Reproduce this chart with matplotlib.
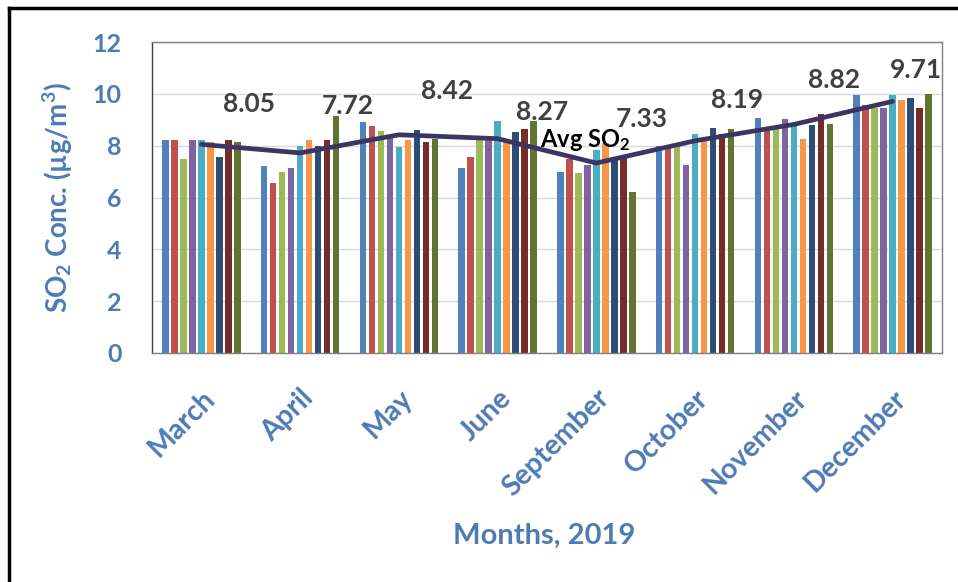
import numpy as np
import matplotlib
matplotlib.use('Agg')
import matplotlib.pyplot as plt
from matplotlib.lines import Line2D

plt.rcParams['font.family'] = ['Lato', 'DejaVu Sans']
plt.rcParams['mathtext.fontset'] = 'custom'
plt.rcParams['mathtext.rm'] = 'Lato:bold'
plt.rcParams['mathtext.it'] = 'Lato:bold'
plt.rcParams['mathtext.bf'] = 'Lato:bold'
plt.rcParams['mathtext.default'] = 'rm'

# Dados
meses = ['March', 'April', 'May', 'June', 'September', 'October', 'November', 'December']

s1 = [8.20, 7.20, 8.90, 7.15, 7.00, 8.00, 9.05, 9.95]
s2 = [8.20, 6.55, 8.75, 7.55, 7.50, 8.00, 8.72, 9.55]
s3 = [7.50, 7.00, 8.55, 8.27, 6.95, 8.00, 8.66, 9.45]
s4 = [8.20, 7.15, 8.40, 8.35, 7.25, 7.25, 9.02, 9.45]
s5 = [8.20, 8.00, 7.95, 8.96, 7.85, 8.45, 8.79, 9.95]
s6 = [8.15, 8.20, 8.20, 8.21, 8.10, 8.20, 8.27, 9.75]
s7 = [7.55, 8.00, 8.60, 8.53, 7.55, 8.70, 8.79, 9.85]
s8 = [8.20, 8.20, 8.15, 8.66, 7.60, 8.45, 9.24, 9.45]
s9 = [8.15, 9.15, 8.25, 8.95, 6.20, 8.65, 8.82, 10.00]

media_so2 = [8.05, 7.72, 8.42, 8.27, 7.33, 8.19, 8.82, 9.71]

series = [s1, s2, s3, s4, s5, s6, s7, s8, s9]
cores = ['#4F81BD', '#C0504D', '#9BBB59', '#8064A2', '#4BACC6',
         '#F79646', '#2C4D75', '#772C2A', '#5F7530']

# deslocamento dos rótulos (pixels)
desloc = [(48, 40), (48, 47), (48, 44), (44, 27), (45, 44), (42, 41), (40, 44), (23, 31)]

azul = '#4F7BB5'

fig = plt.figure(figsize=(9.58, 5.82), dpi=100)
ax = fig.add_axes([152/958, 1 - 353/582, 790/958, 311/582])

x = np.arange(len(meses))
passo = 0.82 / 9
larg = 0.068
for i, (s, c) in enumerate(zip(series, cores)):
    ax.bar(x - 0.41 + passo * (i + 0.5), s, width=larg, color=c, zorder=2)

ax.plot(x, media_so2, color='#3B3564', lw=3.4, zorder=3, solid_capstyle='round')

for xi, v, (dx, dy) in zip(x, media_so2, desloc):
    ax.annotate(f'{v:.2f}', (xi, v), xytext=(dx, dy), textcoords='offset pixels',
                ha='center', va='center', fontsize=19, fontweight='bold', color='#404040')

ax.text(3.885, 8.23, 'Avg SO$_2$', ha='center', va='center', fontsize=17,
        fontweight='bold', color='black', zorder=4)

ax.set_xlim(-0.5, len(meses) - 0.5)
ax.set_ylim(0, 12)
ax.set_yticks(range(0, 13, 2))
ax.grid(axis='y', color='#D9D9D9', lw=1, zorder=0)
ax.set_axisbelow(True)

ax.set_xticks(x)
ax.set_xticklabels(meses, rotation=45, ha='right', rotation_mode='anchor',
                   fontsize=20.5, fontweight='bold', color=azul)
for lbl in ax.get_yticklabels():
    lbl.set_fontsize(18)
    lbl.set_fontweight('bold')
    lbl.set_color(azul)
ax.tick_params(axis='x', length=0, pad=23)
ax.tick_params(axis='y', length=0, pad=22)

for sp in ax.spines.values():
    sp.set_color('#7F7F7F')
    sp.set_linewidth(1)
ax.spines['left'].set_color('#404040')

ax.set_ylabel('SO$_2$ Conc. (µg/m$^3$)', fontsize=20, fontweight='bold', color=azul)
ax.yaxis.set_label_coords(-0.098, 0.5)
ax.set_xlabel('Months, 2019', fontsize=21, fontweight='bold', color=azul)
ax.xaxis.set_label_coords(0.497, -0.545)

# moldura externa
fig.add_artist(Line2D([9/958, 1], [1 - 8/582, 1 - 8/582], color='black', lw=2.5))
fig.add_artist(Line2D([9/958, 9/958], [0, 1 - 8/582], color='black', lw=2.5))

plt.savefig('out.png', dpi=100)
plt.close()
